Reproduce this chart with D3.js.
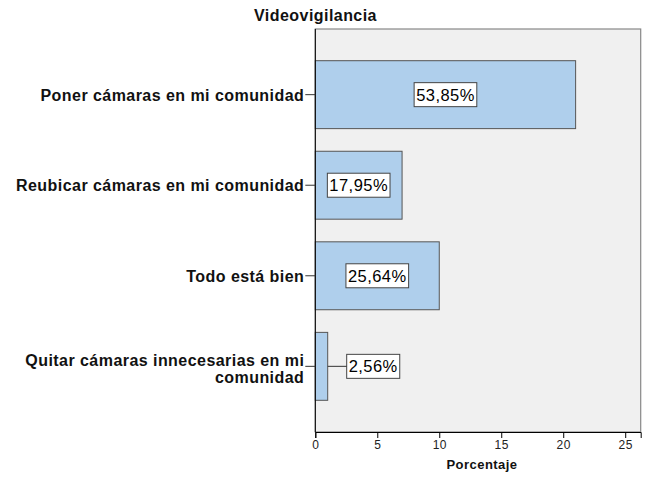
<!DOCTYPE html>
<html>
<head>
<meta charset="utf-8">
<script src="https://cdn.jsdelivr.net/npm/d3@7"></script>
<style>
  body { margin: 0; background: #fff; }
  text { font-family: Arial, "Liberation Sans", sans-serif; letter-spacing: 0.45px; }
</style>
</head>
<body>
<svg id="chart"></svg>
<script>
// values
const categories = [
    ["Poner cámaras en mi comunidad"],
    ["Reubicar cámaras en mi comunidad"],
    ["Todo está bien"],
    ["Quitar cámaras innecesarias en mi", "comunidad"]
];
const counts = [21, 7, 10, 1];
const percentLabels = ["53,85%", "17,95%", "25,64%", "2,56%"];
const xTicks = [0, 5, 10, 15, 20, 25];

const width = 649, height = 477;
const margin = { top: 29, right: 8.3, bottom: 45, left: 315.3 };
const plotW = width - margin.left - margin.right;
const plotH = height - margin.top - margin.bottom;

const svg = d3.select("#chart").attr("width", width).attr("height", height);

const x = d3.scaleLinear().domain([0, 26.25]).range([0, plotW]);
const y = d3.scaleBand()
    .domain(d3.range(categories.length))
    .range([0, plotH])
    .paddingInner(0.25)
    .paddingOuter(0.35);

const g = svg.append("g").attr("transform", `translate(${margin.left},${margin.top})`);

// plot background
g.append("rect")
    .attr("width", plotW).attr("height", plotH)
    .attr("fill", "#f0f0f0")
    .attr("stroke", "#888").attr("stroke-width", 1.2);

// bars
g.selectAll(".bar")
    .data(counts)
    .join("rect")
    .attr("class", "bar")
    .attr("x", 0)
    .attr("y", (d, i) => y(i))
    .attr("width", d => x(d))
    .attr("height", y.bandwidth())
    .attr("fill", "#afcfec")
    .attr("stroke", "#555")
    .attr("stroke-width", 1);

// x axis
const xAxis = g.append("g")
    .attr("transform", `translate(0,${plotH})`)
    .call(d3.axisBottom(x).tickValues(xTicks).tickSize(6).tickPadding(2));
xAxis.select(".domain").attr("stroke", "#000");
xAxis.selectAll(".tick line").attr("stroke", "#000");
xAxis.selectAll("text").attr("font-size", 12).attr("fill", "#222")
    .style("font-family", "Arial, 'Liberation Sans', sans-serif");

// y axis
const yAxis = g.append("g")
    .call(d3.axisLeft(y).tickSize(10).tickFormat(""));
yAxis.select(".domain").attr("stroke", "#000").attr("d", `M0,0V${plotH}`);
yAxis.selectAll(".tick line").attr("stroke", "#333");

// category labels
categories.forEach((lines, i) => {
    const cy = y(i) + y.bandwidth() / 2;
    const t = g.append("text")
        .attr("text-anchor", "end")
        .attr("font-size", 16)
        .attr("font-weight", "bold")
        .attr("fill", "#111");
    const n = lines.length;
    lines.forEach((ln, k) => {
        t.append("tspan")
            .attr("x", -11)
            .attr("y", n === 1 ? cy + 6 : cy + k * 17)
            .text(ln);
    });
});

// value labels in boxes
counts.forEach((d, i) => {
    const cy = y(i) + y.bandwidth() / 2 + 1;
    const lg = g.append("g");
    const txt = lg.append("text")
        .attr("font-size", 16.5)
        .attr("fill", "#000")
        .attr("text-anchor", "middle")
        .attr("x", 0).attr("y", 0)
        .text(percentLabels[i]);
    const bb = txt.node().getBBox();
    const bw = bb.width + 4, bh = 24;
    let cx = x(d) / 2;
    if (bw + 10 > x(d)) {
        // too narrow: put the label outside with a leader line
        const left = x(d) + 19;
        cx = left + bw / 2;
        g.append("line")
            .attr("x1", x(d)).attr("x2", left)
            .attr("y1", cy - 1).attr("y2", cy - 1)
            .attr("stroke", "#333");
    }
    lg.insert("rect", "text")
        .attr("x", -bw / 2).attr("y", -bh / 2)
        .attr("width", bw).attr("height", bh)
        .attr("fill", "#fff").attr("stroke", "#444").attr("stroke-width", 1);
    txt.attr("y", 6);
    lg.attr("transform", `translate(${cx},${cy - 1})`);
});

// title and axis title
svg.append("text")
    .attr("x", 315.5).attr("y", 21)
    .attr("text-anchor", "middle")
    .attr("font-size", 16).attr("font-weight", "bold").attr("fill", "#111")
    .text("Videovigilancia");

svg.append("text")
    .attr("x", 482).attr("y", 469)
    .attr("text-anchor", "middle")
    .attr("font-size", 13).attr("font-weight", "bold").attr("fill", "#111")
    .text("Porcentaje");
</script>
</body>
</html>
